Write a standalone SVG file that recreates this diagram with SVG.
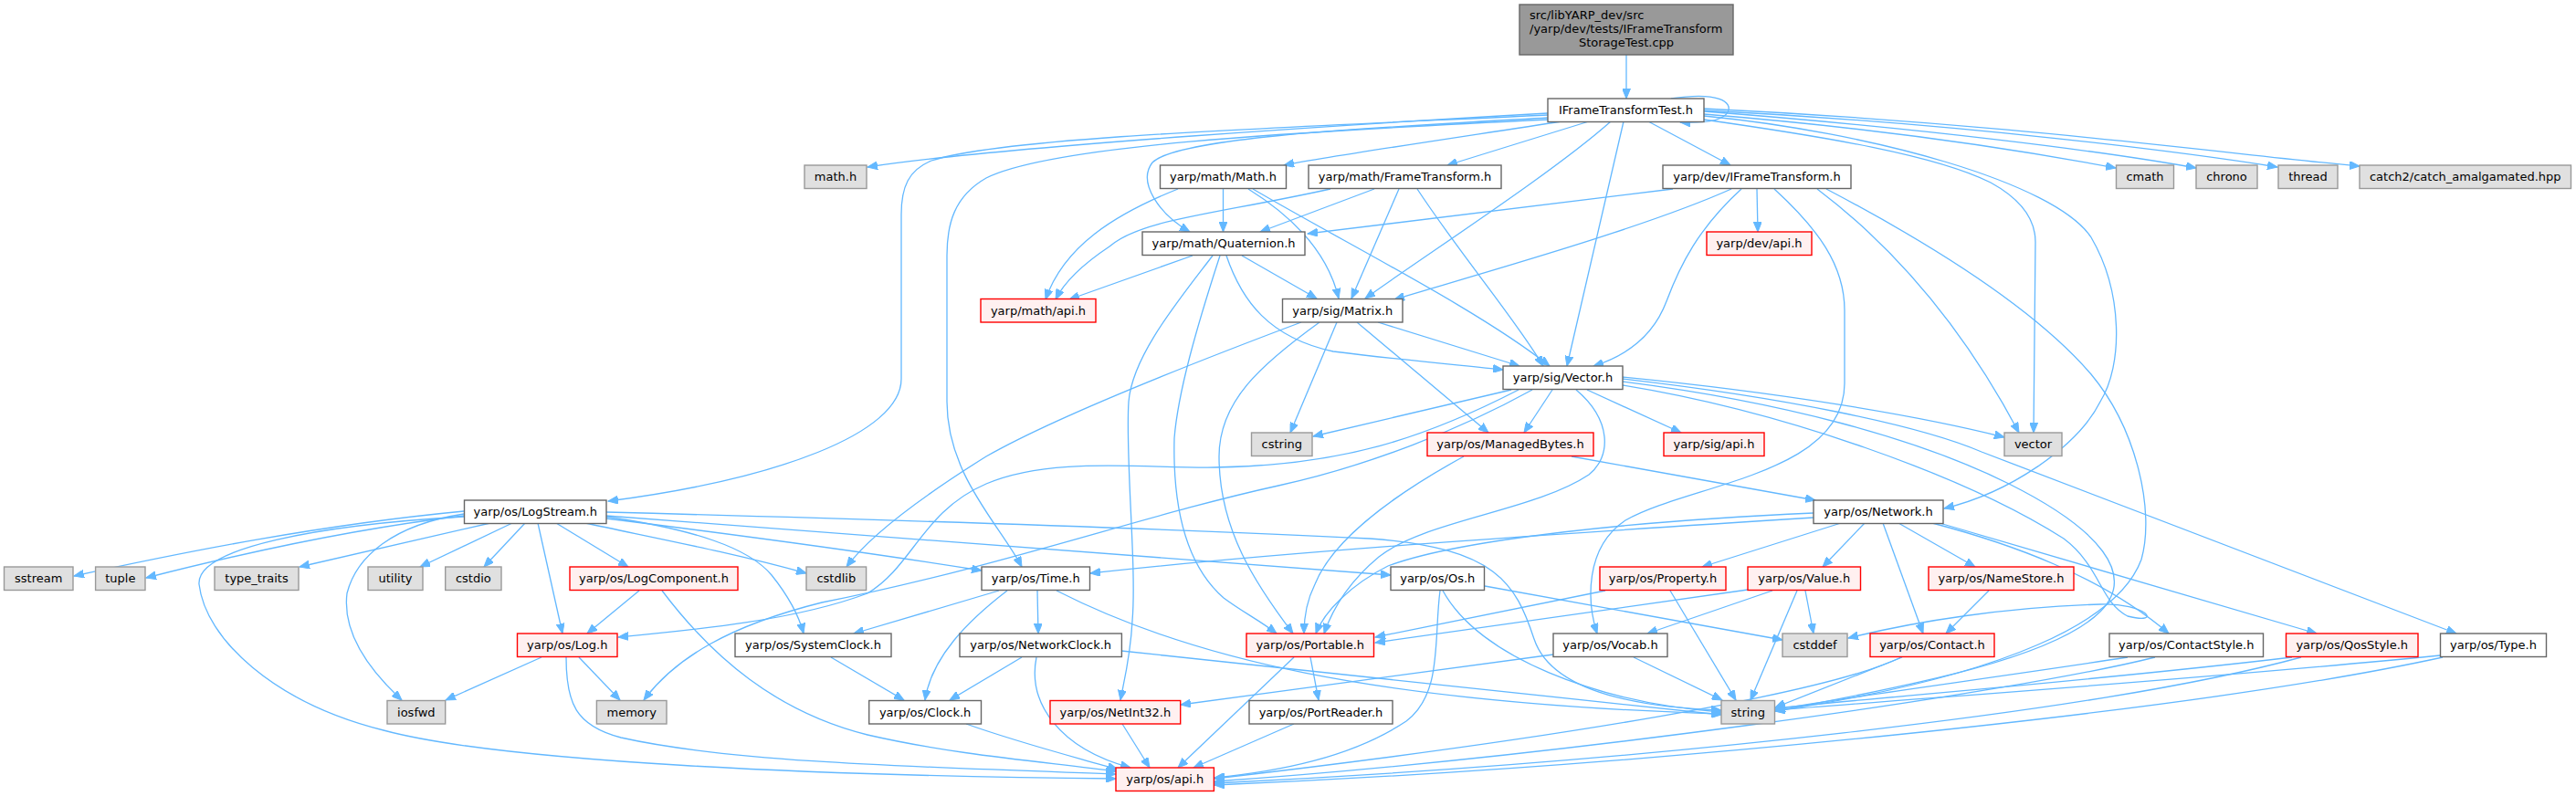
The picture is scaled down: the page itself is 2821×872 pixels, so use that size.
<svg xmlns="http://www.w3.org/2000/svg" width="2821" height="872" viewBox="0 0 2821 872">
<defs>
<marker id="ah" markerUnits="userSpaceOnUse" markerWidth="12" markerHeight="9" refX="11" refY="4.5" orient="auto">
<path d="M0,0 L11,4.5 L0,9 z" fill="#63b8ff" stroke="#63b8ff" stroke-width="1"/>
</marker>
</defs>
<style>
.e{fill:none;stroke:#63b8ff;stroke-width:1.3;marker-end:url(#ah)}
.n{fill:#ffffff;stroke:#666666;stroke-width:1.4}
.r{fill:#fff0f0;stroke:#ff0000;stroke-width:1.4}
.g{fill:#e0e0e0;stroke:#999999;stroke-width:1.4}
.top{fill:#999999;stroke:#666666;stroke-width:1.4}
text{font-family:"DejaVu Sans","Liberation Sans",sans-serif;font-size:13px;fill:#000000;text-anchor:middle}
</style>
<rect width="2821" height="872" fill="#ffffff"/>
<g id="edges">
<path class="e" d="M1781,60 L1781,108"/>
<path class="e" d="M1830,108 C1882,100 1898,112 1892,123 C1887,132 1868,135 1840,134"/>
<path class="e" d="M1695,124 C1500,135 1100,160 950,183"/>
<path class="e" d="M1710,133 C1600,150 1450,172 1406,181"/>
<path class="e" d="M1740,133 L1585,181"/>
<path class="e" d="M1805,133 L1895,181"/>
<path class="e" d="M1695,129 C1500,140 1290,150 1262,178 C1245,200 1270,235 1303,254"/>
<path class="e" d="M1764,133 C1700,190 1560,280 1495,327"/>
<path class="e" d="M1778,133 L1716,401"/>
<path class="e" d="M1695,126 C1400,140 1100,150 1020,176 C995,186 987,205 987,235 L987,415 C987,475 850,525 666,549"/>
<path class="e" d="M1696,131 C1400,145 1150,160 1080,195 C1045,215 1037,245 1037,280 L1037,440 C1037,520 1095,575 1119,621"/>
<path class="e" d="M1866,125 C2050,140 2200,162 2317,184"/>
<path class="e" d="M1866,122 C2100,140 2300,165 2405,184"/>
<path class="e" d="M1866,121 C2150,135 2400,168 2494,183"/>
<path class="e" d="M1866,119 C2200,135 2450,170 2584,182"/>
<path class="e" d="M1866,131 C2000,150 2120,170 2180,200 C2220,222 2229,245 2229,265 L2227,474"/>
<path class="e" d="M1866,127 C2050,145 2250,200 2290,260 C2325,320 2325,400 2300,440 C2275,490 2200,540 2129,557"/>
<path class="e" d="M1832,207 L1432,256"/>
<path class="e" d="M1896,207 C1800,250 1620,300 1527,328"/>
<path class="e" d="M1907,207 C1860,250 1840,290 1825,330 C1810,370 1780,390 1745,401"/>
<path class="e" d="M1924,207 L1925,254"/>
<path class="e" d="M1943,207 C1990,250 2020,290 2020,340 L2020,420 C2020,520 1850,530 1780,570 C1735,600 1738,660 1749,694"/>
<path class="e" d="M1990,207 C2060,260 2140,340 2211,474"/>
<path class="e" d="M2000,207 C2120,270 2230,340 2290,410 C2340,470 2360,560 2345,613 C2320,680 2200,740 1944,779"/>
<path class="e" d="M1457,207 C1330,235 1250,240 1215,270 C1185,290 1165,310 1156,328"/>
<path class="e" d="M1505,207 L1380,254"/>
<path class="e" d="M1532,207 L1480,327"/>
<path class="e" d="M1552,207 C1600,280 1660,350 1690,401"/>
<path class="e" d="M1290,207 C1220,235 1165,270 1145,328"/>
<path class="e" d="M1339.5,207 L1339.5,254"/>
<path class="e" d="M1367,207 C1420,240 1455,280 1466,327"/>
<path class="e" d="M1372,207 C1480,270 1620,340 1697,401"/>
<path class="e" d="M1306,280 L1171,328"/>
<path class="e" d="M1328,280 C1290,330 1240,390 1236,440 C1232,500 1245,620 1240,680 C1238,720 1230,750 1227,767"/>
<path class="e" d="M1336,280 C1310,360 1290,430 1286,480 C1284,560 1300,620 1340,655 C1360,670 1380,680 1398,694"/>
<path class="e" d="M1343,280 C1360,330 1390,370 1460,385 C1540,395 1600,400 1646,405"/>
<path class="e" d="M1360,280 L1442,327"/>
<path class="e" d="M1425,353 C1300,400 1150,460 1080,500 C1000,550 950,590 927,621"/>
<path class="e" d="M1445,353 C1380,400 1335,440 1335,500 C1335,580 1375,640 1416,694"/>
<path class="e" d="M1464,353 L1413,474"/>
<path class="e" d="M1486,353 L1630,474"/>
<path class="e" d="M1509,353 L1664,401"/>
<path class="e" d="M1655,427 L1438,478"/>
<path class="e" d="M1663,427 C1560,480 1470,510 1330,512 C1250,513 1150,500 1080,530 C1010,560 1000,620 950,650 C870,680 760,690 677,698"/>
<path class="e" d="M1678,427 C1600,470 1500,510 1400,532 C1250,565 1100,620 900,660 C800,685 740,720 705,767"/>
<path class="e" d="M1700,427 L1669,474"/>
<path class="e" d="M1726,427 C1765,460 1765,500 1740,520 C1680,560 1560,570 1510,610 C1480,635 1460,665 1450,694"/>
<path class="e" d="M1738,427 L1841,474"/>
<path class="e" d="M1777,413 C1950,430 2100,455 2195,479"/>
<path class="e" d="M1777,415 C1950,435 2100,465 2170,495 L2690,694"/>
<path class="e" d="M1777,418 C1950,440 2100,480 2200,530 C2300,580 2340,630 2300,670 C2250,720 2100,750 1944,779"/>
<path class="e" d="M1777,422 C1950,450 2150,520 2260,590 C2300,620 2300,660 2330,675 C2370,685 2350,660 2300,662 C2200,665 2100,680 2024,699"/>
<path class="e" d="M1603,500 C1530,540 1460,590 1440,640 C1430,660 1428,680 1428,694"/>
<path class="e" d="M1721,500 L1988,548"/>
<path class="e" d="M1986,567 C1700,585 1400,605 1194,628"/>
<path class="e" d="M1986,562 C1800,570 1600,590 1520,620 C1480,640 1450,670 1441,694"/>
<path class="e" d="M2016,573 L1864,621"/>
<path class="e" d="M2042,573 L1996,621"/>
<path class="e" d="M2062,573 L2106,694"/>
<path class="e" d="M2079,573 L2163,621"/>
<path class="e" d="M2116,573 C2200,595 2300,630 2375,694"/>
<path class="e" d="M2124,573 L2537,694"/>
<path class="e" d="M2178,647 L2131,694"/>
<path class="e" d="M1758,647 L1506,698"/>
<path class="e" d="M1829,647 L1901,767"/>
<path class="e" d="M1914,646 L1506,704"/>
<path class="e" d="M1941,647 L1804,694"/>
<path class="e" d="M1968,647 L1917,767"/>
<path class="e" d="M1977,647 L1986,694"/>
<path class="e" d="M1626,642 L1952,701"/>
<path class="e" d="M1580,647 C1620,720 1750,770 1885,780"/>
<path class="e" d="M1577,647 C1570,700 1580,760 1540,790 C1480,830 1400,845 1330,852"/>
<path class="e" d="M1701,717 L1293,772"/>
<path class="e" d="M1789,720 L1886,767"/>
<path class="e" d="M1417,720 L1290,841"/>
<path class="e" d="M1435,720 L1444,767"/>
<path class="e" d="M1417,793 L1307,841"/>
<path class="e" d="M1229,793 L1259,841"/>
<path class="e" d="M2083,720 L1944,775"/>
<path class="e" d="M2082,720 C2000,760 1700,810 1330,853"/>
<path class="e" d="M2330,720 C2200,740 2050,760 1944,777"/>
<path class="e" d="M2360,720 C2200,760 1700,830 1330,856"/>
<path class="e" d="M2510,720 C2300,745 2100,760 1944,776"/>
<path class="e" d="M2520,720 C2300,780 1800,835 1330,858"/>
<path class="e" d="M2672,718 C2400,745 2100,765 1944,778"/>
<path class="e" d="M2675,720 C2400,780 1800,840 1330,860"/>
<path class="e" d="M1094,647 L935,694"/>
<path class="e" d="M1103,647 C1060,680 1020,720 1013,767"/>
<path class="e" d="M1136,647 L1137,694"/>
<path class="e" d="M1157,647 C1300,720 1500,770 1885,782"/>
<path class="e" d="M910,720 L990,767"/>
<path class="e" d="M1119,720 L1040,767"/>
<path class="e" d="M1135,720 C1125,770 1160,820 1238,841"/>
<path class="e" d="M1228,713 C1500,740 1700,765 1885,783"/>
<path class="e" d="M1058,793 C1120,815 1180,830 1224,843"/>
<path class="e" d="M508,560 C350,575 200,605 81,631"/>
<path class="e" d="M508,565 C380,580 250,610 160,633"/>
<path class="e" d="M537,573 L328,621"/>
<path class="e" d="M561,573 L460,621"/>
<path class="e" d="M575,573 L530,621"/>
<path class="e" d="M589,573 L616,694"/>
<path class="e" d="M609,573 L688,621"/>
<path class="e" d="M508,563 C430,575 390,610 380,650 C375,690 400,730 440,767"/>
<path class="e" d="M508,566 C350,575 215,600 218,640 C225,700 300,770 420,800 C550,835 900,850 1222,853"/>
<path class="e" d="M641,573 C720,590 800,605 883,628"/>
<path class="e" d="M664,568 C800,585 950,605 1075,625"/>
<path class="e" d="M664,566 C760,580 820,600 845,630 C865,655 875,675 880,694"/>
<path class="e" d="M664,565 C1000,590 1300,612 1523,630"/>
<path class="e" d="M664,561 C1000,570 1300,580 1500,590 C1640,600 1660,640 1680,700 C1700,760 1800,775 1885,778"/>
<path class="e" d="M593,720 L488,767"/>
<path class="e" d="M634,720 L679,767"/>
<path class="e" d="M620,720 C620,770 630,795 680,808 C800,835 1000,840 1222,848"/>
<path class="e" d="M700,647 L643,694"/>
<path class="e" d="M725,647 C780,720 850,780 950,805 C1050,828 1150,835 1222,845"/>
</g>
<g id="n_top"><rect class="top" x="1664" y="5" width="234" height="55"/><text x="1675" y="21" style="text-anchor:start">src/libYARP_dev/src</text><text x="1675" y="36" style="text-anchor:start">/yarp/dev/tests/IFrameTransform</text><text x="1781" y="51">StorageTest.cpp</text></g>
<g id="n_T"><rect class="n" x="1695" y="108" width="171" height="25.5"/><text x="1780.5" y="125.4">IFrameTransformTest.h</text></g>
<g id="n_mathh"><rect class="g" x="881" y="181" width="68" height="25.5"/><text x="915" y="198.4">math.h</text></g>
<g id="n_Math"><rect class="n" x="1270.5" y="181" width="138" height="25.5"/><text x="1339.5" y="198.4">yarp/math/Math.h</text></g>
<g id="n_FT"><rect class="n" x="1433" y="181" width="211" height="25.5"/><text x="1538.5" y="198.4">yarp/math/FrameTransform.h</text></g>
<g id="n_IFT"><rect class="n" x="1821" y="181" width="206" height="25.5"/><text x="1924" y="198.4">yarp/dev/IFrameTransform.h</text></g>
<g id="n_cmath"><rect class="g" x="2317.5" y="181" width="63" height="25.5"/><text x="2349" y="198.4">cmath</text></g>
<g id="n_chrono"><rect class="g" x="2405" y="181" width="67" height="25.5"/><text x="2438.5" y="198.4">chrono</text></g>
<g id="n_thread"><rect class="g" x="2495" y="181" width="65" height="25.5"/><text x="2527.5" y="198.4">thread</text></g>
<g id="n_catch2"><rect class="g" x="2584" y="181" width="231.5" height="25.5"/><text x="2699.75" y="198.4">catch2/catch_amalgamated.hpp</text></g>
<g id="n_Quat"><rect class="n" x="1251" y="254" width="178" height="25.5"/><text x="1340" y="271.4">yarp/math/Quaternion.h</text></g>
<g id="n_devapi"><rect class="r" x="1869" y="254" width="115" height="25.5"/><text x="1926.5" y="271.4">yarp/dev/api.h</text></g>
<g id="n_mathapi"><rect class="r" x="1074" y="327.5" width="126" height="25.5"/><text x="1137" y="344.9">yarp/math/api.h</text></g>
<g id="n_Matrix"><rect class="n" x="1404.5" y="327.5" width="131.5" height="25.5"/><text x="1470.25" y="344.9">yarp/sig/Matrix.h</text></g>
<g id="n_Vector"><rect class="n" x="1646" y="401" width="131" height="25.5"/><text x="1711.5" y="418.4">yarp/sig/Vector.h</text></g>
<g id="n_cstring"><rect class="g" x="1370.5" y="474" width="66.5" height="25.5"/><text x="1403.75" y="491.4">cstring</text></g>
<g id="n_MB"><rect class="r" x="1563" y="474" width="182" height="25.5"/><text x="1654" y="491.4">yarp/os/ManagedBytes.h</text></g>
<g id="n_sigapi"><rect class="r" x="1822" y="474" width="110" height="25.5"/><text x="1877" y="491.4">yarp/sig/api.h</text></g>
<g id="n_vector"><rect class="g" x="2195" y="474" width="63" height="25.5"/><text x="2226.5" y="491.4">vector</text></g>
<g id="n_LogStream"><rect class="n" x="508.5" y="548" width="155.5" height="25.5"/><text x="586.25" y="565.4">yarp/os/LogStream.h</text></g>
<g id="n_Network"><rect class="n" x="1986" y="548" width="142" height="25.5"/><text x="2057" y="565.4">yarp/os/Network.h</text></g>
<g id="n_sstream"><rect class="g" x="4.5" y="621" width="75.5" height="25.5"/><text x="42.25" y="638.4">sstream</text></g>
<g id="n_tuple"><rect class="g" x="104.6" y="621" width="54.4" height="25.5"/><text x="131.8" y="638.4">tuple</text></g>
<g id="n_type_traits"><rect class="g" x="235" y="621" width="92" height="25.5"/><text x="281" y="638.4">type_traits</text></g>
<g id="n_utility"><rect class="g" x="403" y="621" width="60" height="25.5"/><text x="433" y="638.4">utility</text></g>
<g id="n_cstdio"><rect class="g" x="487.7" y="621" width="61.3" height="25.5"/><text x="518.35" y="638.4">cstdio</text></g>
<g id="n_LogComp"><rect class="r" x="624" y="621" width="184" height="25.5"/><text x="716" y="638.4">yarp/os/LogComponent.h</text></g>
<g id="n_cstdlib"><rect class="g" x="883" y="621" width="65.6" height="25.5"/><text x="915.8" y="638.4">cstdlib</text></g>
<g id="n_Time"><rect class="n" x="1075" y="621" width="118.5" height="25.5"/><text x="1134.25" y="638.4">yarp/os/Time.h</text></g>
<g id="n_Os"><rect class="n" x="1523" y="621" width="102.5" height="25.5"/><text x="1574.25" y="638.4">yarp/os/Os.h</text></g>
<g id="n_Property"><rect class="r" x="1752" y="621" width="138" height="25.5"/><text x="1821" y="638.4">yarp/os/Property.h</text></g>
<g id="n_Value"><rect class="r" x="1914" y="621" width="123.5" height="25.5"/><text x="1975.75" y="638.4">yarp/os/Value.h</text></g>
<g id="n_NameStore"><rect class="r" x="2112" y="621" width="159" height="25.5"/><text x="2191.5" y="638.4">yarp/os/NameStore.h</text></g>
<g id="n_Log"><rect class="r" x="566.5" y="694" width="109.5" height="25.5"/><text x="621.25" y="711.4">yarp/os/Log.h</text></g>
<g id="n_SysClock"><rect class="n" x="805" y="694" width="171" height="25.5"/><text x="890.5" y="711.4">yarp/os/SystemClock.h</text></g>
<g id="n_NetClock"><rect class="n" x="1051" y="694" width="177.4" height="25.5"/><text x="1139.7" y="711.4">yarp/os/NetworkClock.h</text></g>
<g id="n_Portable"><rect class="r" x="1365" y="694" width="139.5" height="25.5"/><text x="1434.75" y="711.4">yarp/os/Portable.h</text></g>
<g id="n_Vocab"><rect class="n" x="1701" y="694" width="125" height="25.5"/><text x="1763.5" y="711.4">yarp/os/Vocab.h</text></g>
<g id="n_cstddef"><rect class="g" x="1952" y="694" width="71" height="25.5"/><text x="1987.5" y="711.4">cstddef</text></g>
<g id="n_Contact"><rect class="r" x="2048" y="694" width="136" height="25.5"/><text x="2116" y="711.4">yarp/os/Contact.h</text></g>
<g id="n_ContactStyle"><rect class="n" x="2310" y="694" width="168.5" height="25.5"/><text x="2394.25" y="711.4">yarp/os/ContactStyle.h</text></g>
<g id="n_QosStyle"><rect class="r" x="2503.5" y="694" width="144.5" height="25.5"/><text x="2575.75" y="711.4">yarp/os/QosStyle.h</text></g>
<g id="n_Type"><rect class="n" x="2672.5" y="694" width="116" height="25.5"/><text x="2730.5" y="711.4">yarp/os/Type.h</text></g>
<g id="n_iosfwd"><rect class="g" x="424" y="767.5" width="63.7" height="25.5"/><text x="455.85" y="784.9">iosfwd</text></g>
<g id="n_memory"><rect class="g" x="653.4" y="767.5" width="76.6" height="25.5"/><text x="691.7" y="784.9">memory</text></g>
<g id="n_Clock"><rect class="n" x="951.7" y="767.5" width="122.8" height="25.5"/><text x="1013.1" y="784.9">yarp/os/Clock.h</text></g>
<g id="n_NetInt32"><rect class="r" x="1150" y="767.5" width="142.7" height="25.5"/><text x="1221.35" y="784.9">yarp/os/NetInt32.h</text></g>
<g id="n_PortReader"><rect class="n" x="1368" y="767.5" width="157" height="25.5"/><text x="1446.5" y="784.9">yarp/os/PortReader.h</text></g>
<g id="n_string"><rect class="g" x="1885" y="767.5" width="58.5" height="25.5"/><text x="1914.25" y="784.9">string</text></g>
<g id="n_osapi"><rect class="r" x="1222" y="841" width="107.4" height="25.5"/><text x="1275.7" y="858.4">yarp/os/api.h</text></g>
</svg>
